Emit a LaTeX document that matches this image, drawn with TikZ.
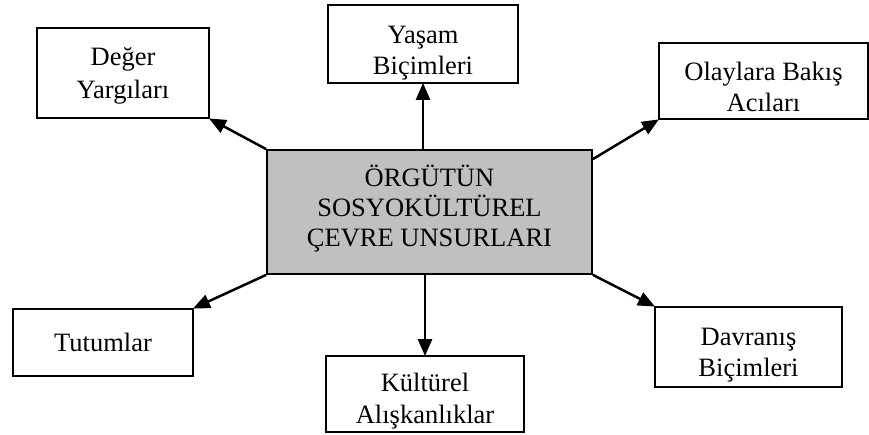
\documentclass[tikz,border=0pt]{standalone}
\usepackage{fontspec}
\setmainfont{Liberation Serif}
\usetikzlibrary{arrows.meta,calc}
\definecolor{boxgray}{RGB}{192,192,192}
\tikzset{
  box/.style={draw=black, line width=1.8pt, rectangle, inner sep=0pt},
  txt/.style={inner sep=0pt, align=center, font=\fontsize{26.5}{31.5}\selectfont},
  conn/.style={line width=2.5pt, -{Triangle[length=17pt,width=14pt]}, shorten >=-1pt}
}
\begin{document}
\begin{tikzpicture}[x=1pt,y=-1pt]
\useasboundingbox (0,0) rectangle (869,434);
\node[box, fill=boxgray, minimum width=325pt, minimum height=124pt] (center) at (429.5,212) {};
\node[txt, font=\fontsize{26.5}{30}\selectfont] (tcenter) at ($(center)+(0,-3)$)
  {ÖRGÜTÜN\\SOSYOKÜLTÜREL\\ÇEVRE UNSURLARI};
\node[box, minimum width=172pt, minimum height=90pt] (deger) at (123,73) {};
\node[txt, font=\fontsize{26.5}{32.5}\selectfont] (tdeger) at ($(deger)+(0,3)$) {Değer\\Yargıları};
\node[box, minimum width=190pt, minimum height=78pt] (yasam) at (423,44) {};
\node[txt] (tyasam) at ($(yasam)+(0,9)$) {Yaşam\\Biçimleri};
\node[box, minimum width=209pt, minimum height=76pt] (olay) at (763.5,81) {};
\node[txt] (tolay) at ($(olay)+(0,6)$) {Olaylara Bakış\\Acıları};
\node[box, minimum width=180pt, minimum height=67pt] (tutum) at (103,342.5) {};
\node[txt] (ttutum) at ($(tutum)+(0,0)$) {Tutumlar};
\node[box, minimum width=198pt, minimum height=76pt] (kultur) at (425,394) {};
\node[txt] (tkultur) at ($(kultur)+(0,7)$) {Kültürel\\Alışkanlıklar};
\node[box, minimum width=187pt, minimum height=80pt] (davr) at (748.5,347) {};
\node[txt] (tdavr) at ($(davr)+(0,8)$) {Davranış\\Biçimleri};
\coordinate (olaystart) at ($(center.north east)+(0,10)$);
\draw[conn] (center.north west) -- (deger.south east);
\draw[conn] (yasam.south |- center.north) -- (yasam.south);
\draw[conn] (olaystart) -- (olay.south west);
\draw[conn] (center.south west) -- (tutum.north east);
\draw[conn] (kultur.north |- center.south) -- (kultur.north);
\draw[conn] (center.south east) -- (davr.north west);
\end{tikzpicture}
\end{document}
